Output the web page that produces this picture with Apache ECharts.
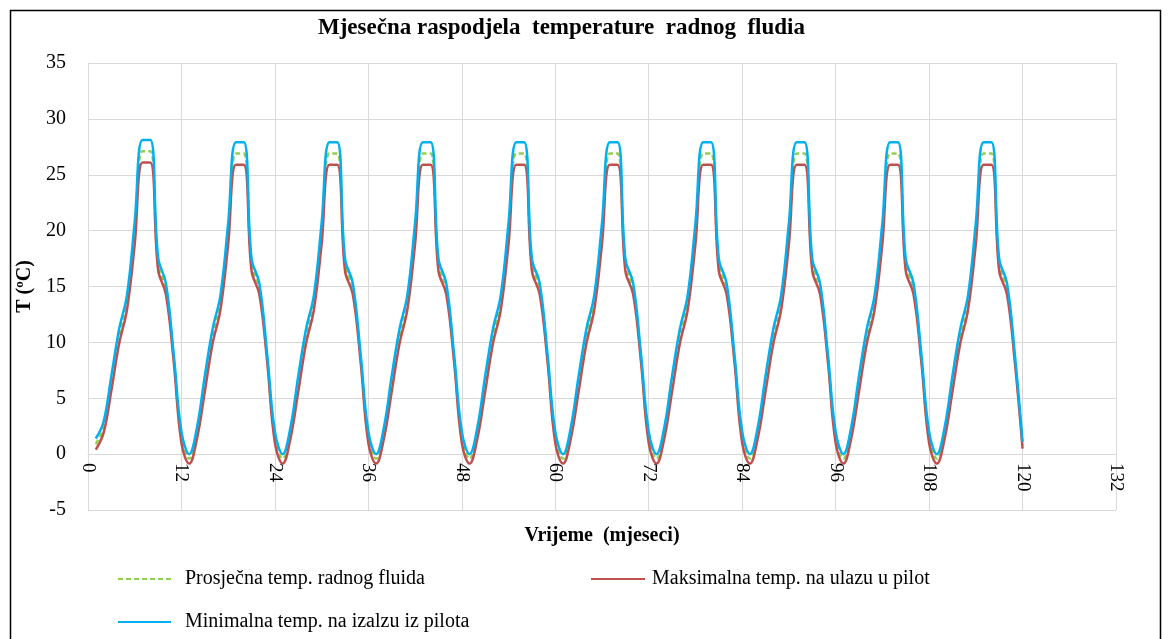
<!DOCTYPE html>
<html>
<head>
<meta charset="utf-8">
<script src="https://cdn.jsdelivr.net/npm/echarts@6/dist/echarts.min.js"></script>
<style>
  html, body { margin: 0; padding: 0; background: #fff; }
  #chart { width: 1170px; height: 639px; }
</style>
</head>
<body>
<div id="chart"></div>
<script>
const serif = "'Liberation Serif', 'Times New Roman', serif";

const seriesNames = [
  'Prosječna temp. radnog fluida',
  'Maksimalna temp. na ulazu u pilot',
  'Minimalna temp. na izalzu iz pilota'
];

const xTicks = [0, 12, 24, 36, 48, 60, 72, 84, 96, 108, 120, 132];
const yTicks = [-5, 0, 5, 10, 15, 20, 25, 30, 35];

// monthly values, months 1..120, one row per year
const avgTemp = [
  0.9, 2.4, 6.4, 10.6, 13.6, 19.8, 27.1, 27.1, 17.0, 14.8, 8.6, 1.5,
  -0.4, 1.9, 6.3, 10.6, 13.6, 19.8, 26.9, 26.9, 17.0, 14.8, 8.6, 1.5,
  -0.4, 1.9, 6.3, 10.6, 13.6, 19.8, 26.9, 26.9, 17.0, 14.8, 8.6, 1.5,
  -0.4, 1.9, 6.3, 10.6, 13.6, 19.8, 26.9, 26.9, 17.0, 14.8, 8.6, 1.5,
  -0.4, 1.9, 6.3, 10.6, 13.6, 19.8, 26.9, 26.9, 17.0, 14.8, 8.6, 1.5,
  -0.4, 1.9, 6.3, 10.6, 13.6, 19.8, 26.9, 26.9, 17.0, 14.8, 8.6, 1.5,
  -0.4, 1.9, 6.3, 10.6, 13.6, 19.8, 26.9, 26.9, 17.0, 14.8, 8.6, 1.5,
  -0.4, 1.9, 6.3, 10.6, 13.6, 19.8, 26.9, 26.9, 17.0, 14.8, 8.6, 1.5,
  -0.4, 1.9, 6.3, 10.6, 13.6, 19.8, 26.9, 26.9, 17.0, 14.8, 8.6, 1.5,
  -0.4, 1.9, 6.3, 10.6, 13.6, 19.8, 26.9, 26.9, 17.0, 14.8, 8.6, 0.8
];

const maxInlet = [
  0.4, 1.9, 5.7, 9.9, 12.9, 18.8, 26.1, 26.1, 16.5, 14.3, 8.3, 1.0,
  -0.85, 1.4, 5.6, 9.9, 12.9, 18.8, 25.9, 25.9, 16.4, 14.3, 8.3, 1.0,
  -0.85, 1.4, 5.6, 9.9, 12.9, 18.8, 25.9, 25.9, 16.4, 14.3, 8.3, 1.0,
  -0.85, 1.4, 5.6, 9.9, 12.9, 18.8, 25.9, 25.9, 16.4, 14.3, 8.3, 1.0,
  -0.85, 1.4, 5.6, 9.9, 12.9, 18.8, 25.9, 25.9, 16.4, 14.3, 8.3, 1.0,
  -0.85, 1.4, 5.6, 9.9, 12.9, 18.8, 25.9, 25.9, 16.4, 14.3, 8.3, 1.0,
  -0.85, 1.4, 5.6, 9.9, 12.9, 18.8, 25.9, 25.9, 16.4, 14.3, 8.3, 1.0,
  -0.85, 1.4, 5.6, 9.9, 12.9, 18.8, 25.9, 25.9, 16.4, 14.3, 8.3, 1.0,
  -0.85, 1.4, 5.6, 9.9, 12.9, 18.8, 25.9, 25.9, 16.4, 14.3, 8.3, 1.0,
  -0.85, 1.4, 5.6, 9.9, 12.9, 18.8, 25.9, 25.9, 16.4, 14.3, 8.3, 0.5
];

const minOutlet = [
  1.4, 2.9, 7.0, 11.2, 14.2, 20.8, 28.1, 28.1, 17.6, 15.3, 9.0, 2.0,
  0.0, 2.4, 7.0, 11.2, 14.2, 20.7, 27.9, 27.9, 17.5, 15.3, 9.0, 2.0,
  0.0, 2.4, 7.0, 11.2, 14.2, 20.7, 27.9, 27.9, 17.5, 15.3, 9.0, 2.0,
  0.0, 2.4, 7.0, 11.2, 14.2, 20.7, 27.9, 27.9, 17.5, 15.3, 9.0, 2.0,
  0.0, 2.4, 7.0, 11.2, 14.2, 20.7, 27.9, 27.9, 17.5, 15.3, 9.0, 2.0,
  0.0, 2.4, 7.0, 11.2, 14.2, 20.7, 27.9, 27.9, 17.5, 15.3, 9.0, 2.0,
  0.0, 2.4, 7.0, 11.2, 14.2, 20.7, 27.9, 27.9, 17.5, 15.3, 9.0, 2.0,
  0.0, 2.4, 7.0, 11.2, 14.2, 20.7, 27.9, 27.9, 17.5, 15.3, 9.0, 2.0,
  0.0, 2.4, 7.0, 11.2, 14.2, 20.7, 27.9, 27.9, 17.5, 15.3, 9.0, 2.0,
  0.0, 2.4, 7.0, 11.2, 14.2, 20.7, 27.9, 27.9, 17.5, 15.3, 9.0, 1.1
];

// pair each value with its month number (1..120)
const toPoints = (values) => values.map((v, i) => [i + 1, v]);

const myChart = echarts.init(document.getElementById('chart'));

const legendText = (gap) => ({
  fontFamily: serif, fontSize: 20, color: '#000', padding: [0, 0, 0, gap]
});
// hide the circle marker ECharts adds to line legend icons
const legendItem = { opacity: 0 };

const options = {
  animation: false,
  backgroundColor: '#fff',
  title: {
    text: 'Mjesečna raspodjela  temperature  radnog  fludia',
    left: 313,
    top: 12,
    textStyle: { fontFamily: serif, fontSize: 23, fontWeight: 'bold', color: '#000' }
  },
  graphic: [
    {
      type: 'rect',
      left: 8,
      top: 8,
      shape: { width: 1150, height: 660 },
      style: { fill: 'none', stroke: '#000', lineWidth: 1.5 },
      silent: true
    }
  ],
  legend: [
    {
      data: [seriesNames[0]],
      left: 112, top: 564,
      itemWidth: 53, itemHeight: 10,
      itemStyle: legendItem,
      textStyle: legendText(9)
    },
    {
      data: [seriesNames[1]],
      left: 585, top: 564,
      itemWidth: 54, itemHeight: 10,
      itemStyle: legendItem,
      textStyle: legendText(2)
    },
    {
      data: [seriesNames[2]],
      left: 112, top: 607,
      itemWidth: 53, itemHeight: 10,
      itemStyle: legendItem,
      textStyle: legendText(9)
    }
  ],
  grid: { left: 88, right: 54, top: 63, bottom: 129 },
  xAxis: {
    type: 'value',
    min: xTicks[0],
    max: xTicks[xTicks.length - 1],
    interval: 12,
    // axis crosses at T = 0, one 5-degree step above the bottom edge
    offset: -56,
    name: 'Vrijeme  (mjeseci)',
    nameLocation: 'middle',
    nameGap: 72,
    nameTextStyle: { fontFamily: serif, fontSize: 20, fontWeight: 'bold', color: '#000' },
    axisLine: { onZero: false, lineStyle: { color: '#d9d9d9' } },
    axisTick: { show: false },
    axisLabel: {
      rotate: -90,
      margin: 9,
      fontFamily: serif,
      fontSize: 19,
      color: '#000'
    },
    splitLine: { show: true, lineStyle: { color: '#d9d9d9' } }
  },
  yAxis: {
    type: 'value',
    min: yTicks[0],
    max: yTicks[yTicks.length - 1],
    interval: 5,
    name: 'T (ºC)',
    nameLocation: 'middle',
    nameGap: 52,
    nameTextStyle: { fontFamily: serif, fontSize: 20, fontWeight: 'bold', color: '#000' },
    axisLine: { show: true, onZero: false, lineStyle: { color: '#d9d9d9' } },
    axisTick: { show: false },
    axisLabel: { margin: 22, fontFamily: serif, fontSize: 20, color: '#000' },
    splitLine: { show: true, lineStyle: { color: '#d9d9d9' } }
  },
  series: [
    {
      name: seriesNames[0],
      type: 'line',
      data: toPoints(avgTemp),
      smooth: 0.4,
      symbol: 'none',
      color: '#92d050',
      lineStyle: { width: 2.5, type: [5, 3], color: '#92d050' }
    },
    {
      name: seriesNames[1],
      type: 'line',
      data: toPoints(maxInlet),
      smooth: 0.4,
      symbol: 'none',
      color: '#c0504d',
      lineStyle: { width: 2.5, color: '#c0504d' }
    },
    {
      name: seriesNames[2],
      type: 'line',
      data: toPoints(minOutlet),
      smooth: 0.4,
      symbol: 'none',
      color: '#00b0f0',
      lineStyle: { width: 2.5, color: '#00b0f0' }
    }
  ]
};

myChart.setOption(options);
</script>
</body>
</html>
